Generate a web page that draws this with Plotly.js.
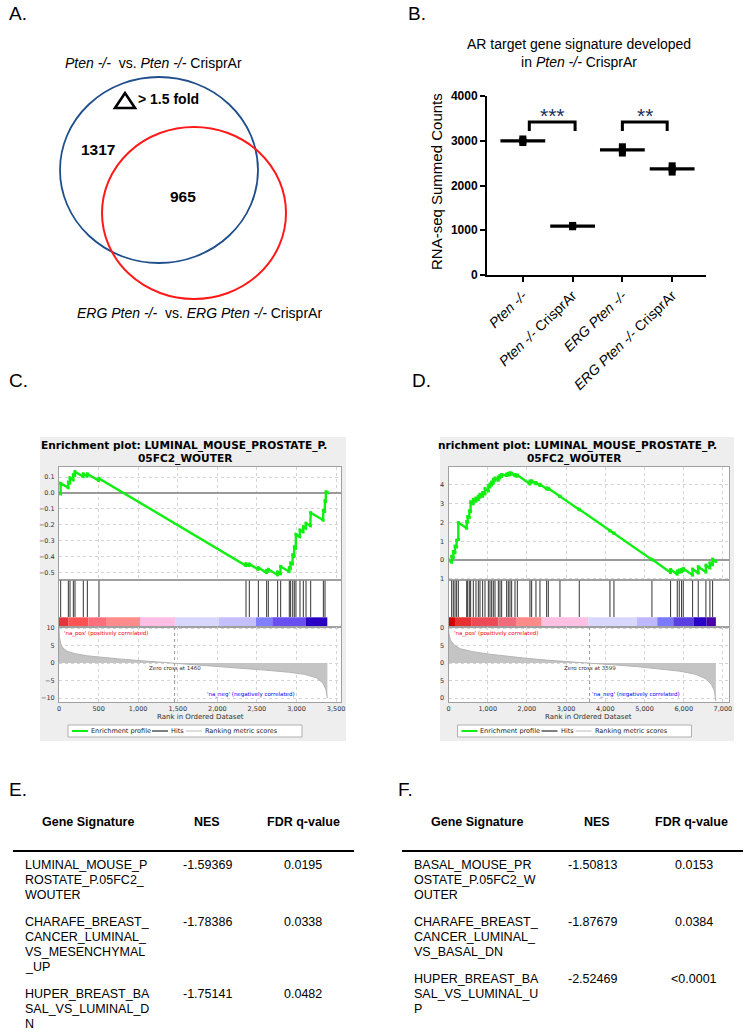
<!DOCTYPE html>
<html><head><meta charset="utf-8">
<script src="https://cdn.plot.ly/plotly-3.0.1.min.js"></script>
<style>html,body{margin:0;padding:0;background:#fff}#chart{width:748px;height:1035px}</style>
</head><body><div id="chart"></div>
<script>
const W=748,H=1035;
const X=v=>v/W, Y=v=>1-v/H;
const AR='Liberation Sans, Arial, sans-serif';
const DJ='DejaVu Sans, sans-serif';

// ---------- Panel A data ----------
const vennCounts=[1317,965];
const vennLabels=['<i>Pten -/-</i>  vs. <i>Pten -/-</i> CrisprAr','<i>ERG Pten -/-</i>  vs. <i>ERG Pten -/-</i> CrisprAr'];
const foldText='&gt; 1.5 fold';

// ---------- Panel B data ----------
const groupLabels=['<i>Pten -/-</i>','<i>Pten -/-</i> CrisprAr','<i>ERG Pten -/-</i>','<i>ERG Pten -/-</i> CrisprAr'];
const groupValues=[[2960,2995,3040],[1078,1095,1108],[2725,2795,2865],[2300,2370,2440]];
const bTicks=[0,1000,2000,3000,4000];
const sigLabels=['***','**'];
const sigFrom=[0.13,2.0];
const sigTo=[1.05,2.9];

// ---------- Panel C data ----------
const esRankC=[0,20,21,115,118,136,139,178,181,199,202,303,307,354,358,501,505,2358,2362,2400,2404,2514,2518,2619,2623,2640,2644,2758,2762,2796,2800,2905,2909,2923,2926,2949,2952,2969,2972,2990,2993,3040,3044,3082,3086,3116,3120,3175,3179,3335,3339,3356,3360,3368,3372,3390];
const esValC=[0,-0.005,0.061,0.034,0.068,0.063,0.095,0.083,0.115,0.11,0.134,0.104,0.12,0.106,0.12,0.078,0.092,-0.456,-0.445,-0.456,-0.447,-0.479,-0.47,-0.5,-0.488,-0.493,-0.48,-0.514,-0.497,-0.507,-0.462,-0.493,-0.47,-0.474,-0.44,-0.447,-0.39,-0.395,-0.34,-0.345,-0.26,-0.274,-0.233,-0.244,-0.212,-0.221,-0.19,-0.206,-0.124,-0.17,-0.11,-0.115,-0.05,-0.052,0.008,0.002];
const hitsC=[21,118,139,181,202,307,358,505,2362,2404,2518,2623,2644,2762,2800,2909,2926,2952,2972,2993,3044,3086,3120,3179,3339,3360];
const metricRankC=[0,5,20,50,100,200,350,500,750,1000,1250,1460,1700,2000,2300,2600,2900,3100,3250,3330,3370,3390];
const metricValC=[10,7.6,5.6,4.3,3.4,2.7,2.1,1.7,1.2,0.75,0.35,0,-0.4,-0.9,-1.4,-2.0,-2.6,-3.2,-4.2,-5.6,-7.4,-10];
const zeroCrossC=1460;
const cbEdgesC=[0,117,370,594,1023,1465,2021,2488,2694,3120,3389];
const cbColorsC=['#e8323c','#ff5252','#ff6e7a','#ff8c8c','#ffbfe4','#d8d8ff','#c6bfff','#8080ff','#6a4ff0','#2a00c4'];

// ---------- Panel D data ----------
const esRankD=[0,80,81,122,123,165,166,207,208,250,251,463,464,488,489,530,531,564,565,632,633,700,701,760,761,802,803,870,871,930,931,1015,1016,1057,1058,1100,1101,1142,1143,1185,1186,1270,1271,1312,1313,1355,1356,1483,1484,1525,1526,1567,1568,1610,1611,1695,1696,1755,1756,2077,2078,2120,2121,2230,2231,2332,2333,2503,2504,2545,2546,2842,2843,3335,3336,4117,4118,4219,4220,5188,5189,5664,5665,5834,5835,5885,5886,5945,5946,5987,5988,6226,6227,6369,6370,6565,6566,6667,6668,6736,6737,6820];
const esValD=[0,-0.012,0.02,0.014,0.045,0.039,0.075,0.069,0.105,0.11,0.2,0.169,0.205,0.201,0.232,0.226,0.262,0.257,0.31,0.3,0.323,0.313,0.33,0.321,0.34,0.334,0.35,0.34,0.36,0.351,0.38,0.368,0.395,0.389,0.405,0.399,0.415,0.409,0.43,0.424,0.437,0.425,0.442,0.436,0.45,0.444,0.455,0.45,0.458,0.452,0.46,0.454,0.465,0.459,0.462,0.449,0.455,0.446,0.452,0.405,0.42,0.414,0.422,0.406,0.412,0.397,0.403,0.378,0.383,0.377,0.382,0.338,0.34,0.268,0.27,0.155,0.157,0.142,0.144,0.002,0.004,-0.066,-0.05,-0.075,-0.058,-0.065,-0.053,-0.062,-0.05,-0.056,-0.045,-0.08,-0.048,-0.069,-0.035,-0.064,-0.027,-0.042,-0.015,-0.025,0.005,-0.007];
const hitsD=[81,123,166,208,251,464,489,531,565,633,701,761,803,871,931,1016,1058,1101,1143,1186,1271,1313,1356,1484,1526,1568,1611,1696,1756,2078,2121,2231,2333,2504,2546,2843,3336,4118,4220,5189,5665,5835,5886,5946,5988,6227,6370,6566,6668,6737];
const metricRankD=[0,10,50,150,300,600,1000,1500,2000,2500,3000,3599,4200,4800,5400,5900,6300,6550,6700,6780,6820];
const metricValD=[10.5,8.5,6.6,5.1,4.1,3.3,2.6,1.9,1.35,0.85,0.4,0,-0.5,-1.0,-1.6,-2.3,-3.2,-4.4,-6,-7.8,-10.8];
const zeroCrossD=3599;
const cbEdgesD=[0,166,592,1270,1740,2377,3566,4800,5325,5733,6261,6585,6820];
const cbColorsD=['#d40000','#e83232','#ee4a55','#f06a7a','#ff8a8a','#ffc0e4','#d8d8ff','#c0b8ff','#7a7aff','#5a40e0','#2a00c8','#4800a8'];

// ---------- Tables ----------
const tableHeader=['Gene Signature','NES','FDR q-value'];
const sigE=[['LUMINAL_MOUSE_P','ROSTATE_P.05FC2_','WOUTER'],['CHARAFE_BREAST_','CANCER_LUMINAL_','VS_MESENCHYMAL','_UP'],['HUPER_BREAST_BA','SAL_VS_LUMINAL_D','N']];
const nesE=['-1.59369','-1.78386','-1.75141'];
const fdrE=['0.0195','0.0338','0.0482'];
const sigF=[['BASAL_MOUSE_PR','OSTATE_P.05FC2_W','OUTER'],['CHARAFE_BREAST_','CANCER_LUMINAL_','VS_BASAL_DN'],['HUPER_BREAST_BA','SAL_VS_LUMINAL_U','P']];
const nesF=['-1.50813','-1.87679','-2.52469'];
const fdrF=['0.0153','0.0384','<0.0001'];

// ================= build =================
const traces=[], shapes=[], annotations=[];
const esc=s=>String(s).replace(/</g,'&lt;').replace(/>/g,'&gt;');
function A(text,x,y,o){return Object.assign({text:text,x:X(x),y:Y(y),xref:'paper',yref:'paper',showarrow:false,xanchor:'left',yanchor:'middle',font:{family:AR,size:13,color:'#000'}},o||{});}
function R(x0,y0,x1,y1,o){return Object.assign({type:'rect',xref:'paper',yref:'paper',x0:X(x0),x1:X(x1),y0:Y(y1),y1:Y(y0),line:{width:0},layer:'below'},o||{});}

// panel letters
[['A.',7,14],['B.',406,14],['C.',7,380],['D.',410,380],['E.',7,789],['F.',396,789]].forEach(p=>annotations.push(A(p[0],p[1],p[2],{font:{family:AR,size:19,color:'#000'}})));

// ---- Panel A ----
shapes.push({type:'circle',xref:'paper',yref:'paper',x0:X(60),x1:X(258),y0:Y(263),y1:Y(77),line:{color:'#1f4e8c',width:1.8}});
shapes.push({type:'circle',xref:'paper',yref:'paper',x0:X(102),x1:X(286),y0:Y(299),y1:Y(127),line:{color:'#ff1a1a',width:2}});
shapes.push({type:'path',xref:'paper',yref:'paper',path:`M ${X(115)},${Y(108)} L ${X(125)},${Y(93)} L ${X(135)},${Y(108)} Z`,line:{color:'#000',width:2.6}});
annotations.push(A(vennLabels[0],153,63,{xanchor:'center',font:{family:AR,size:14,color:'#000'}}));
annotations.push(A(vennLabels[1],199,313,{xanchor:'center',font:{family:AR,size:14,color:'#000'}}));
annotations.push(A('<b>'+foldText+'</b>',136,99,{font:{family:AR,size:14,color:'#000'}}));
annotations.push(A('<b>'+vennCounts[0]+'</b>',98,150,{xanchor:'center',font:{family:AR,size:15.5,color:'#000'}}));
annotations.push(A('<b>'+vennCounts[1]+'</b>',183,196,{xanchor:'center',font:{family:AR,size:15.5,color:'#000'}}));

// ---- Panel B ----
annotations.push(A('AR target gene signature developed<br>in <i>Pten -/-</i> CrisprAr',579,53,{xanchor:'center',font:{family:AR,size:14,color:'#000'}}));
annotations.push(A('RNA-seq Summed Counts',437,182,{xanchor:'center',textangle:-90,font:{family:AR,size:15,color:'#000'}}));
const px=[],py=[];
groupValues.forEach((vals,i)=>vals.forEach(v=>{px.push(i);py.push(v);}));
traces.push({type:'scatter',mode:'markers',x:px,y:py,xaxis:'x',yaxis:'y',marker:{color:'#000',size:7,symbol:'square'},hoverinfo:'skip'});
const means=groupValues.map(v=>v.reduce((a,b)=>a+b,0)/v.length);
traces.push({type:'scatter',mode:'markers',x:means.map((m,i)=>i),y:means,xaxis:'x',yaxis:'y',marker:{symbol:'line-ew',size:32,line:{color:'#000',width:3.2}},hoverinfo:'skip'});
sigLabels.forEach((lab,k)=>{
  const a=sigFrom[k],b=sigTo[k];
  shapes.push({type:'path',xref:'x',yref:'y',path:`M ${a},3220 L ${a},3420 L ${b},3420 L ${b},3220`,line:{color:'#000',width:3}});
  annotations.push({text:lab,x:(a+b)/2,y:3560,xref:'x',yref:'y',showarrow:false,xanchor:'center',yanchor:'middle',font:{family:AR,size:21,color:'#24305a'}});
});

const layout={width:W,height:H,margin:{l:0,r:0,t:0,b:0},paper_bgcolor:'#fff',plot_bgcolor:'rgba(0,0,0,0)',showlegend:false,font:{family:AR,color:'#000'},hovermode:false};
layout.xaxis={domain:[X(487),X(706)],range:[-0.72,3.68],tickvals:[0,1,2,3],ticktext:groupLabels,tickangle:-44,tickfont:{family:AR,size:14,color:'#000'},showline:true,linewidth:2,linecolor:'#000',ticks:'outside',ticklen:5,tickwidth:2,tickcolor:'#000',showgrid:false,zeroline:false,anchor:'y',automargin:false,fixedrange:true};
layout.yaxis={domain:[Y(275),Y(96)],range:[0,4000],tickvals:bTicks,tickfont:{family:AR,size:12,color:'#000',weight:'bold'},showline:true,linewidth:2,linecolor:'#000',ticks:'outside',ticklen:5,tickwidth:2,tickcolor:'#000',showgrid:false,zeroline:false,anchor:'x',automargin:false,fixedrange:true};

// ---- GSEA panels ----
const HIT_Y0=0.213;
function gsea(n,g){
  const a=n,b=n+1,c=n+2;
  const dom=[X(g.left),X(g.right)];
  const grid={showgrid:true,gridcolor:'#d4d4d4',griddash:'dot',gridwidth:1};
  const frame={showline:true,mirror:true,linecolor:'#a0a0a0',linewidth:1,automargin:false,fixedrange:true};
  const tf={family:DJ,size:6.5,color:'#333'};
  layout['xaxis'+a]=Object.assign({domain:dom,range:[0,g.xmax],anchor:'y'+a,showticklabels:false,ticks:'',dtick:g.dtick,tick0:0,zeroline:false},grid,frame);
  layout['yaxis'+a]=Object.assign({domain:[Y(g.esBot),Y(g.esTop)],range:g.esRange,anchor:'x'+a,dtick:0.1,tick0:0,tickformat:'.1f',tickfont:tf,ticks:'',ticklabelstandoff:2,zeroline:true,zerolinecolor:'#9a9a9a',zerolinewidth:1.5},grid,frame);
  layout['xaxis'+b]=Object.assign({domain:dom,range:[0,g.xmax],anchor:'y'+b,showticklabels:false,ticks:'',showgrid:false,zeroline:false},frame);
  layout['yaxis'+b]=Object.assign({domain:[Y(g.cbBot),Y(g.esBot)],range:[0,1],anchor:'x'+b,showticklabels:false,ticks:'',showgrid:false,zeroline:false},frame);
  layout['xaxis'+c]=Object.assign({domain:dom,range:[0,g.xmax],anchor:'y'+c,ticks:'',dtick:g.dtick,tick0:0,tickformat:',d',tickfont:tf,zeroline:false},grid,frame);
  layout['yaxis'+c]=Object.assign({domain:[Y(g.metBot),Y(g.cbBot)],range:g.metRange,anchor:'x'+c,tickvals:[-10,-5,0,5,10],tickfont:tf,ticks:'',ticklabelstandoff:2,zeroline:false},grid,frame);

  shapes.push(R(g.bgL,437,g.bgR,741,{fillcolor:'#eeeeee'}));
  shapes.push(R(g.left,g.esTop,g.right,g.metBot,{fillcolor:'#ffffff'}));
  for(let i=0;i<g.cbColors.length;i++){
    shapes.push({type:'rect',xref:'x'+b,yref:'y'+b,x0:g.cbEdges[i],x1:g.cbEdges[i+1],y0:0.007,y1:0.206,fillcolor:g.cbColors[i],line:{width:0},layer:'below'});
  }
  shapes.push({type:'line',xref:'x'+c,yref:'y'+c+' domain',x0:g.zero,x1:g.zero,y0:0,y1:1,line:{color:'#9a9a9a',width:1,dash:'dot'}});

  traces.push({type:'scatter',mode:'lines+markers',x:g.esRank,y:g.esVal,xaxis:'x'+a,yaxis:'y'+a,line:{color:'#11ee11',width:2.4},marker:{color:'#11ee11',size:3,symbol:'square'},hoverinfo:'skip'});
  const hx=[],hy=[];
  g.hits.forEach(r=>{hx.push(r,r,null);hy.push(HIT_Y0,0.985,null);});
  traces.push({type:'scatter',mode:'lines',x:hx,y:hy,xaxis:'x'+b,yaxis:'y'+b,line:{color:'#333',width:1},hoverinfo:'skip'});
  traces.push({type:'scatter',mode:'lines',x:g.mRank,y:g.mVal,xaxis:'x'+c,yaxis:'y'+c,fill:'tozeroy',fillcolor:'#c4c4c4',line:{color:'#b4b4b4',width:1},hoverinfo:'skip'});

  g.title.forEach(t=>annotations.push(A(t.text,t.x,t.y,{xanchor:t.anchor,font:{family:DJ,size:10.6,color:'#000',weight:'bold'}})));
  annotations.push(A("'na_pos' (positively correlated)",g.left+3,633,{font:{family:DJ,size:5.5,color:'#ff0000'}}));
  annotations.push(A("'na_neg' (negatively correlated)",g.negX,694,{font:{family:DJ,size:5.5,color:'#0000ff'}}));
  annotations.push({text:'Zero cross at '+g.zero,x:g.zero,y:Y(668),xref:'x'+c,yref:'paper',showarrow:false,xanchor:'center',yanchor:'middle',font:{family:DJ,size:5.5,color:'#333'}});
  annotations.push(A('Rank in Ordered Dataset',(g.left+g.right)/2,717,{xanchor:'center',font:{family:DJ,size:7,color:'#333'}}));
  const o=g.left-59;
  shapes.push(R(68+o,725,302+o,737,{fillcolor:'#fff',line:{color:'#b0b0b0',width:1},layer:'above'}));
  const items=[['Enrichment profile','#11ee11',2],['Hits','#000',1],['Ranking metric scores','#bbbbbb',1]];
  const xs=[72,152,186];
  items.forEach((it,k)=>{
    shapes.push({type:'line',xref:'paper',yref:'paper',x0:X(xs[k]+o),x1:X(xs[k]+o+16),y0:Y(731),y1:Y(731),line:{color:it[1],width:it[2]},layer:'above'});
    annotations.push(A(it[0],xs[k]+o+17,731,{font:{family:DJ,size:6.5,color:'#222'}}));
  });
}

gsea(2,{left:59,right:341,bgL:40,bgR:346,esTop:467,esBot:580,cbBot:627,metBot:702,xmax:3562,dtick:500,esRange:[-0.547,0.1635],metRange:[-11.1,10.3],
  esRank:esRankC,esVal:esValC,hits:hitsC,mRank:metricRankC,mVal:metricValC,zero:zeroCrossC,cbEdges:cbEdgesC,cbColors:cbColorsC,negX:205,
  title:[{text:'Enrichment plot: LUMINAL_MOUSE_PROSTATE_P.',x:184,y:445,anchor:'center'},{text:'05FC2_WOUTER',x:185,y:458,anchor:'center'}]});
gsea(5,{left:448.5,right:729,bgL:440,bgR:734,esTop:467,esBot:580,cbBot:627,metBot:702,xmax:7155,dtick:1000,esRange:[-0.106,0.495],metRange:[-11.1,10.3],
  esRank:esRankD,esVal:esValD,hits:hitsD,mRank:metricRankD,mVal:metricValD,zero:zeroCrossD,cbEdges:cbEdgesD,cbColors:cbColorsD,negX:590,
  title:[{text:'nrichment plot: LUMINAL_MOUSE_PROSTATE_P.',x:719,y:445,anchor:'right'},{text:'05FC2_WOUTER',x:574,y:458,anchor:'center'}]});
shapes.push(R(400,432,440,745,{fillcolor:'#ffffff',layer:'above'}));

// ---- Tables ----
function table(lineX0,lineX1,hdrX,sigX,nesX,fdrX,sig,nes,fdr){
  tableHeader.forEach((h,k)=>annotations.push(A('<b>'+h+'</b>',hdrX[k],822,{xanchor:'center',font:{family:AR,size:12.5,color:'#000'}})));
  shapes.push({type:'line',xref:'paper',yref:'paper',x0:X(lineX0),x1:X(lineX1),y0:Y(851),y1:Y(851),line:{color:'#000',width:2}});
  let yy=865;
  sig.forEach((lines,r)=>{
    lines.forEach((t,k)=>annotations.push(A(esc(t),sigX,yy+k*15,{font:{family:AR,size:12.5,color:'#000'}})));
    annotations.push(A(esc(nes[r]),nesX,yy,{font:{family:AR,size:12.5,color:'#000'}}));
    annotations.push(A(esc(fdr[r]),fdrX,yy,{xanchor:'center',font:{family:AR,size:12.5,color:'#000'}}));
    yy+=lines.length*15+12;
  });
}
table(13,354,[88,207,303],23,181,303,sigE,nesE,fdrE);
table(402,743,[477,597,691],412,566,694,sigF,nesF,fdrF);

layout.shapes=shapes;
layout.annotations=annotations;
Plotly.newPlot('chart',traces,layout,{staticPlot:true,displayModeBar:false});
</script>
</body></html>
